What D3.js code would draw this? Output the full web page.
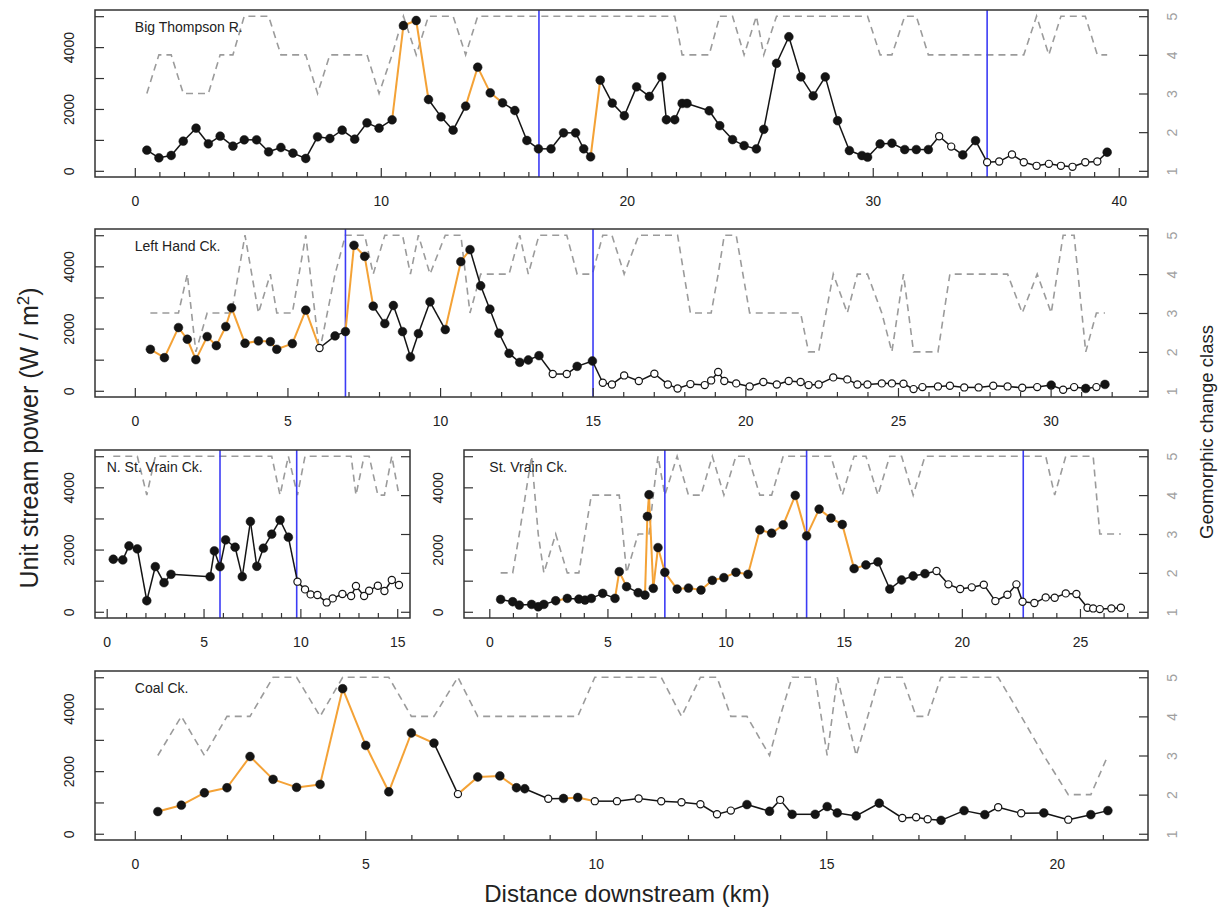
<!DOCTYPE html>
<html lang="en">
<head>
<meta charset="UTF-8">
<title>Unit stream power and geomorphic change</title>
<script src="https://d3js.org/d3.v7.min.js"></script>
<style>
  body { margin: 0; background: #fff; }
  text { font-family: "Liberation Sans", Arial, sans-serif; }
</style>
</head>
<body>
<svg width="1226" height="913"></svg>
<script>
// ---- data (km downstream, unit stream power W/m2, geomorphic class 1-5)
// Big Thompson R.
const btKm = [0.49,0.98,1.48,1.97,2.49,2.99,3.47,3.99,4.45,4.95,5.44,5.94,6.43,6.95,7.43,7.93,8.43,8.94,9.44,9.93,10.46,10.92,11.44,11.94,12.45,12.94,13.45,13.94,14.45,14.95,15.45,15.94,16.41,16.92,17.43,17.92,18.25,18.53,18.92,19.41,19.90,20.40,20.92,21.42,21.61,21.95,22.25,22.45,23.35,23.78,24.30,24.77,25.27,25.57,26.09,26.59,27.08,27.58,28.07,28.57,29.05,29.56,29.79,30.30,30.78,31.30,31.77,32.26,32.70,33.19,33.66,34.18,34.65,35.14,35.66,36.14,36.66,37.16,37.65,38.12,38.64,39.13,39.53]
const btPower = [668,420,496,959,1379,873,1121,797,1002,1002,614,754,571,399,1099,1045,1315,1024,1552,1379,1649,4698,4860,2306,1746,1315,2091,3351,2522,2198,1950,981,711,711,1228,1228,711,453,2931,2189,1781,2715,2404,3037,1652,1652,2178,2178,1942,1459,1009,815,708,1341,3477,4335,3037,2425,3037,1620,655,494,440,869,891,687,687,687,1116,783,515,976,279,300,526,279,161,225,161,129,279,300,601]
const btClass = [3,4,4,3,3,3,4,4,5,5,5,4,4,4,3,4,4,4,4,3,4,5,4,5,5,5,4,5,5,5,5,5,5,5,5,5,5,5,5,5,5,5,5,5,5,5,4,4,4,5,5,4,5,4,5,5,5,5,5,5,5,5,5,4,4,5,5,4,4,4,4,4,4,4,4,4,5,4,5,5,5,4,4]
const btOpen = [68,69,72,73,74,75,76,77,78,79,80,81]
const btOrange = [20,21,22,26,27,28,37]
const btBreaks = [16.43, 34.65]

// Left Hand Ck.
const lhKm = [0.51,0.97,1.43,1.72,2.00,2.37,2.67,2.98,3.17,3.61,4.05,4.44,4.65,5.16,5.60,6.05,6.56,6.90,7.18,7.53,7.81,8.19,8.47,8.77,9.03,9.29,9.67,10.17,10.68,10.98,11.33,11.63,11.93,12.26,12.61,12.89,13.24,13.69,14.15,14.49,14.99,15.33,15.63,16.03,16.51,17.02,17.46,17.78,18.20,18.67,18.88,19.11,19.31,19.70,20.14,20.59,21.03,21.42,21.81,22.07,22.40,22.88,23.34,23.67,24.00,24.47,24.80,25.18,25.51,25.80,26.31,26.70,27.17,27.64,28.12,28.59,29.07,29.56,30.02,30.41,30.77,31.15,31.50,31.78]
const lhPower = [1333,1064,2032,1656,1000,1742,1451,2064,2666,1527,1602,1580,1333,1516,2591,1376,1763,1903,4676,4322,2720,2161,2741,1903,1086,1838,2860,1967,4150,4537,3376,2623,1849,1204,914,989,1129,538,538,785,957,258,204,494,312,548,204,75,215,183,333,602,312,237,140,280,204,312,280,183,204,430,366,204,204,237,237,226,54,118,140,161,108,108,161,140,97,118,183,32,118,75,118,204]
const lhClass = [3,3,3,4,2,3,3,3,3,5,3,4,3,3,5,2,4,5,5,5,4,5,5,5,4,5,4,5,5,3,4,4,4,4,5,4,5,5,5,4,4,5,5,4,5,5,5,5,3,3,3,4,5,5,3,3,3,3,3,2,2,4,3,4,4,3,2,4,2,2,2,4,4,4,4,4,3,4,3,5,5,2,3,3]
const lhOpen = [15,37,38].concat(d3.range(41, 78), [79,80,82])
const lhOrange = d3.range(0, 15).concat([17,18,19,27,28])
const lhBreaks = [6.90, 15.01]

// N. St. Vrain Ck.
const nsKm = [0.34,0.83,1.15,1.58,2.07,2.51,2.96,3.32,5.34,5.56,5.85,6.14,6.63,7.00,7.42,7.75,8.09,8.52,8.95,9.38,9.85,10.24,10.53,10.88,11.36,11.67,12.17,12.62,12.87,13.29,13.55,14.00,14.34,14.72,15.09]
const nsPower = [1688,1666,2118,2021,355,1451,935,1204,1129,1957,1451,2311,2075,1129,2902,1462,2043,2494,2946,2397,968,720,559,537,301,430,570,505,828,505,677,839,666,1021,860]
const nsClass = [5,5,5,5,4,5,5,5,5,5,5,5,5,5,5,5,5,5,4,5,4,5,5,5,5,5,5,5,4,5,5,4,4,5,4]
const nsOpen = d3.range(20, 35)
const nsOrange = []
const nsBreaks = [5.85, 9.81]

// St. Vrain Ck.
const svKm = [0.48,0.99,1.27,1.79,2.07,2.31,2.81,3.30,3.79,4.05,4.32,4.80,5.32,5.50,5.81,6.30,6.59,6.69,6.76,6.94,7.14,7.43,7.95,8.43,8.96,9.44,9.93,10.44,10.95,11.45,11.95,12.44,12.95,13.43,13.96,14.46,14.94,15.44,15.94,16.45,16.95,17.45,17.94,18.44,18.93,19.43,19.93,20.42,20.93,21.42,21.93,22.31,22.57,23.07,23.55,23.93,24.40,24.85,25.32,25.56,25.84,26.33,26.73]
const svPower = [398,323,215,237,161,237,355,430,409,376,430,591,430,1290,806,613,538,3064,3763,753,2064,1269,731,763,699,1011,1097,1269,1204,2634,2526,2795,3741,2440,3300,3010,2806,1387,1505,1602,731,1021,1150,1225,1311,881,731,785,871,344,548,881,323,280,462,452,591,570,129,108,86,108,129]
const svClass = [2,2,3,5,3,2,3,2,2,3,4,4,4,4,2,3,3,3,3,4,5,4,5,4,4,5,4,5,5,4,4,5,5,5,5,5,4,5,5,4,5,5,4,5,5,5,5,5,5,5,5,5,5,5,5,4,5,5,5,5,3,3,3]
const svOpen = d3.range(44, 63)
const svOrange = [6,12,13].concat(d3.range(16, 38))
const svBreaks = [7.43, 13.43, 22.60]

// Coal Ck.
const ccKm = [0.50,1.01,1.51,2.00,2.50,3.00,3.51,4.02,4.51,5.01,5.51,6.00,6.49,7.01,7.44,7.92,8.28,8.46,8.97,9.30,9.61,9.98,10.46,10.93,11.42,11.86,12.27,12.63,12.93,13.28,13.77,14.00,14.26,14.76,15.02,15.24,15.65,16.15,16.65,16.95,17.20,17.49,17.99,18.44,18.73,19.23,19.72,20.25,20.74,21.11]
const ccPower = [708,912,1309,1470,2468,1738,1481,1577,4635,2822,1341,3219,2897,1266,1813,1846,1470,1438,1116,1127,1159,1041,1041,1125,1039,1007,942,621,739,932,718,1082,621,621,868,664,568,975,503,525,461,428,739,610,846,653,664,450,610,739]
const ccClass = [3,4,3,4,4,5,5,4,5,5,5,4,4,5,4,4,4,4,4,4,4,5,5,5,5,4,5,5,4,4,3,4,5,5,3,5,3,5,5,4,4,5,5,5,5,4,3,2,2,3]
const ccOpen = [13,18,21,22,23,24,25,26,27,28,31,38,39,40,44,45,47]
const ccOrange = d3.range(0, 12).concat([13,14,15,19,20])
const ccBreaks = []

const powerTicks = [0, 1000, 2000, 3000, 4000, 5000]
const powerLabels = [0, 2000, 4000]
const classTicks = [1, 2, 3, 4, 5]

// ---- layout
const panels = [
  {label: "Big Thompson R.", km: btKm, power: btPower, cls: btClass, open: btOpen, orange: btOrange, breaks: btBreaks,
   box: [95, 1148, 10, 177], xlim: [-1.618, 41.19], major: 10, tickMax: 40, rightLabels: true},
  {label: "Left Hand Ck.", km: lhKm, power: lhPower, cls: lhClass, open: lhOpen, orange: lhOrange, breaks: lhBreaks,
   box: [95, 1148, 229, 397], xlim: [-1.304, 33.19], major: 5, tickMax: 32, rightLabels: true},
  {label: "N. St. Vrain Ck.", km: nsKm, power: nsPower, cls: nsClass, open: nsOpen, orange: nsOrange, breaks: nsBreaks,
   box: [95, 410, 450, 618], xlim: [-0.604, 15.66], major: 5, tickMax: 15, rightLabels: false},
  {label: "St. Vrain Ck.", km: svKm, power: svPower, cls: svClass, open: svOpen, orange: svOrange, breaks: svBreaks,
   box: [464, 1148, 450, 618], xlim: [-1.071, 27.88], major: 5, tickMax: 27, rightLabels: true},
  {label: "Coal Ck.", km: ccKm, power: ccPower, cls: ccClass, open: ccOpen, orange: ccOrange, breaks: ccBreaks,
   box: [95, 1148, 671, 840], xlim: [-0.863, 21.98], major: 5, tickMax: 21, rightLabels: true}
]

let svg = d3.select("svg")
const orange = "#f4a236", ink = "#141414", blue = "#3c3cf5", grey = "#9b9b9b", frame = "#333"

panels.forEach(drawPanel)

function drawPanel(p) {
  const [left, right, top, bottom] = p.box
  const x = d3.scaleLinear().domain(p.xlim).range([left, right])
  const y = d3.scaleLinear().domain([-200, 5200]).range([bottom, top])
  const yc = d3.scaleLinear().domain([0.84, 5.16]).range([bottom, top])
  const g = svg.append("g")

  // geomorphic change class (dashed, right axis)
  g.append("path")
    .datum(p.km.map((k, i) => [k, p.cls[i]]))
    .attr("fill", "none")
    .attr("stroke", grey)
    .attr("stroke-width", 1.6)
    .attr("stroke-dasharray", "7,5")
    .attr("d", d3.line().x(d => x(d[0])).y(d => yc(d[1])))

  // reach boundaries
  g.selectAll(".reach").data(p.breaks).join("line")
    .attr("x1", d => x(d)).attr("x2", d => x(d))
    .attr("y1", top).attr("y2", bottom)
    .attr("stroke", blue).attr("stroke-width", 1.6)

  // stream power line, segment by segment
  g.selectAll(".seg").data(d3.range(p.km.length - 1)).join("line")
    .attr("x1", i => x(p.km[i])).attr("y1", i => y(p.power[i]))
    .attr("x2", i => x(p.km[i + 1])).attr("y2", i => y(p.power[i + 1]))
    .attr("stroke", i => p.orange.includes(i) ? orange : ink)
    .attr("stroke-width", i => p.orange.includes(i) ? 2 : 1.5)

  g.selectAll(".pt").data(p.km.map((k, i) => ({k: k, v: p.power[i], open: p.open.includes(i)})))
    .join("circle")
    .attr("cx", d => x(d.k)).attr("cy", d => y(d.v))
    .attr("r", d => d.open ? 3.6 : 4.4)
    .attr("fill", d => d.open ? "#fff" : ink)
    .attr("stroke", ink)
    .attr("stroke-width", d => d.open ? 1.2 : 0.5)

  // bottom axis: long ticks with labels, short ticks every km
  const majors = d3.range(0, p.tickMax + 1, p.major)
  const minors = d3.range(0, p.tickMax + 1).filter(d => d % p.major)
  let ax = g.append("g").attr("transform", `translate(0,${bottom})`)
    .call(d3.axisBottom(x).tickValues(majors).tickSize(-9).tickPadding(19).tickFormat(d3.format("d")))
  styleAxis(ax)
  ax.selectAll("text").attr("fill", "#222")
  let axm = g.append("g").attr("transform", `translate(0,${bottom})`)
    .call(d3.axisBottom(x).tickValues(minors).tickSize(-5).tickFormat(""))
  styleAxis(axm)

  // left axis
  let ay = g.append("g").attr("transform", `translate(${left},0)`)
    .call(d3.axisLeft(y).tickValues(powerTicks).tickSize(-9)
      .tickFormat(d => powerLabels.includes(d) ? d : ""))
  styleAxis(ay)
  ay.selectAll("text")
    .attr("x", 0).attr("y", -21).attr("dy", 0)
    .attr("text-anchor", "middle").attr("transform", "rotate(-90)")
    .attr("fill", "#222")

  // right axis (class)
  let ar = g.append("g").attr("transform", `translate(${right},0)`)
    .call(d3.axisRight(yc).tickValues(classTicks).tickSize(-9)
      .tickFormat(d => p.rightLabels ? d : ""))
  styleAxis(ar)
  ar.selectAll("text")
    .attr("x", 0).attr("y", 29).attr("dy", 0)
    .attr("text-anchor", "middle").attr("transform", "rotate(-90)")
    .attr("fill", "#a0a0a0")

  g.append("rect")
    .attr("x", left).attr("y", top)
    .attr("width", right - left).attr("height", bottom - top)
    .attr("fill", "none").attr("stroke", frame).attr("stroke-width", 1.5)

  g.append("text")
    .attr("x", x(0)).attr("y", top + 22)
    .attr("font-size", 14).attr("fill", "#222")
    .text(p.label)
}

function styleAxis(a) {
  a.select(".domain").remove()
  a.selectAll("line").attr("stroke", frame).attr("stroke-width", 1.2)
  a.selectAll("text").attr("font-size", 14).attr("font-family", "Liberation Sans, Arial, sans-serif")
}

// axis titles
svg.append("text")
  .attr("x", 627).attr("y", 902)
  .attr("text-anchor", "middle").attr("font-size", 24).attr("fill", "#222")
  .text("Distance downstream (km)")

let yt = svg.append("text")
  .attr("transform", "translate(38,438) rotate(-90)")
  .attr("text-anchor", "middle").attr("font-size", 25).attr("fill", "#222")
yt.append("tspan").text("Unit stream power (W / m")
yt.append("tspan").attr("baseline-shift", "super").attr("font-size", 17).text("2")
yt.append("tspan").text(")")

svg.append("text")
  .attr("transform", "translate(1213,432) rotate(-90)")
  .attr("text-anchor", "middle").attr("font-size", 18.5).attr("fill", "#222")
  .text("Geomorphic change class")
</script>
</body>
</html>
